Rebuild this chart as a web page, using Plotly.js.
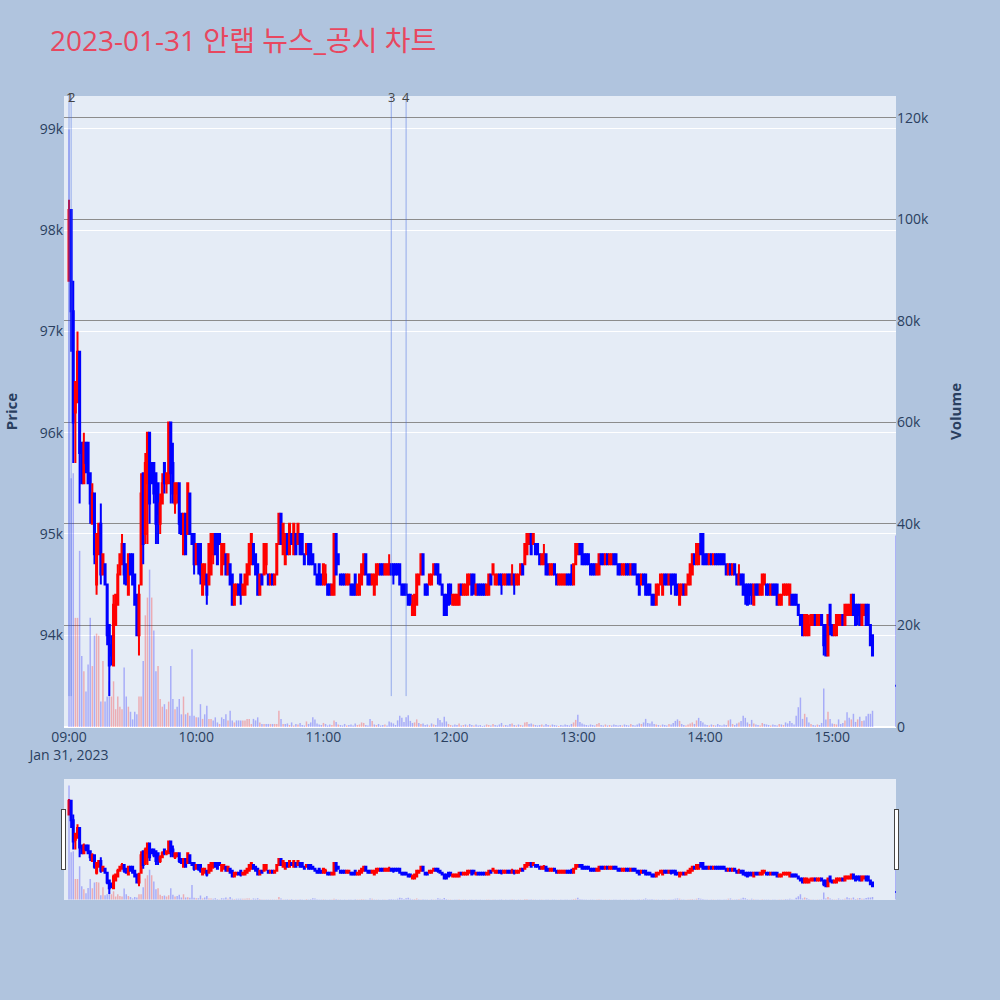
<!DOCTYPE html>
<html>
<head>
<meta charset="utf-8">
<script src="https://cdn.plot.ly/plotly-3.0.1.min.js"></script>
<style>
  html, body { margin: 0; padding: 0; background: #b0c4de; }
  #chart { width: 1000px; height: 1000px; }
</style>
</head>
<body>
<div id="chart"></div>
<script>
// ---------------- data ----------------
const chartTitle = '2023-01-31 안랩 뉴스_공시 차트';
const tradeDate = '2023-01-31';
const sessionStartHour = 9;
const continuousMinutes = 380;          // 09:00 .. 15:19
const closingAuctionTime = '15:30';

const openPrice = [
97500,98200,97200,96200,96300,96800,95900,95500,95900,95900,
95600,95100,95400,94500,94800,95100,94600,94700,94500,94100,
93900,93700,94100,94300,94600,94700,94900,94700,94400,94800,
94800,94600,94400,94000,94500,95600,95000,95500,96000,95700,
95700,95600,95500,95100,95300,95700,95500,95500,96100,95700,
95300,95400,95500,95200,94800,95200,95000,95400,95000,95000,
94700,94900,94900,94400,94500,94600,94500,94600,94800,95000,
95000,95000,94600,94700,94800,94600,94700,94600,94300,94400,
94500,94600,94400,94400,94500,94600,94700,94900,94800,94700,
94400,94600,94600,94700,94600,94500,94600,94500,94600,94900,
95200,94800,94700,95000,94800,95000,94800,95000,94900,95000,
95000,94800,94800,94900,94900,94800,94700,94600,94700,94600,
94500,94500,94500,94500,94400,94400,95000,94800,94600,94600,
94600,94500,94500,94500,94500,94600,94400,94400,94500,94600,
94800,94600,94600,94500,94400,94500,94600,94700,94700,94600,
94600,94600,94700,94700,94700,94700,94700,94500,94500,94500,
94400,94400,94200,94200,94300,94500,94600,94800,94500,94500,
94500,94500,94600,94700,94700,94600,94500,94400,94400,94500,
94500,94300,94300,94300,94300,94500,94400,94400,94400,94500,
94600,94600,94400,94500,94500,94500,94500,94400,94400,94600,
94600,94500,94500,94600,94600,94500,94500,94600,94600,94500,
94600,94500,94500,94600,94700,94700,94800,94900,95000,94900,
94900,94900,94800,94700,94700,94800,94700,94600,94600,94700,
94600,94500,94500,94500,94500,94600,94600,94600,94500,94700,
94800,94900,94900,94800,94800,94800,94700,94700,94700,94600,
94600,94800,94800,94700,94800,94700,94700,94800,94800,94700,
94700,94600,94600,94700,94700,94600,94700,94700,94600,94600,
94500,94600,94600,94500,94500,94400,94400,94300,94400,94500,
94400,94600,94600,94500,94600,94600,94600,94500,94300,94400,
94500,94400,94500,94500,94600,94800,94700,94700,95000,95000,
94800,94800,94700,94800,94700,94800,94800,94800,94800,94800,
94700,94600,94700,94600,94700,94600,94500,94600,94600,94500,
94500,94500,94500,94300,94500,94500,94400,94400,94500,94500,
94500,94400,94500,94500,94500,94300,94300,94400,94400,94400,
94300,94400,94400,94400,94300,94200,94200,94000,94000,94000,
94100,94100,94200,94100,94100,94200,94100,94100,93800,94300,
94100,94000,94000,94100,94100,94200,94100,94200,94200,94200,
94400,94300,94300,94300,94100,94200,94300,94300,94100,94000,
93500];

const highPrice = [
98300,98200,97500,96500,97000,96800,95900,96000,95900,95900,
95600,95500,95400,95000,95100,95300,94800,94700,94500,94100,
94000,94400,94400,94700,94800,95000,94900,94700,94800,94800,
94800,94600,94400,94500,95600,95600,95800,96000,96000,95700,
95700,95600,95500,95400,95600,95700,95600,96100,96100,95900,
95500,95500,95500,95200,95200,95200,95500,95400,95000,95000,
94900,94900,94900,94700,94700,94600,94900,95000,95000,95000,
95000,95000,94900,94900,94800,94800,94700,94600,94500,94500,
94500,94600,94500,94600,94700,94900,95000,94900,94800,94700,
94600,94600,94900,94900,94600,94600,94600,94600,94900,95200,
95200,95100,95000,95000,95100,95000,95100,95000,95100,95000,
95000,94800,94900,94900,94900,94800,94700,94600,94700,94600,
94700,94700,94500,94500,94500,95000,95000,94800,94600,94600,
94600,94600,94600,94500,94500,94600,94500,94600,94700,94800,
94800,94600,94600,94600,94600,94700,94700,94700,94700,94700,
94700,94800,94700,94700,94700,94700,94700,94500,94500,94500,
94400,94400,94400,94400,94600,94600,94800,94800,94500,94500,
94600,94600,94700,94700,94700,94600,94500,94400,94400,94500,
94500,94400,94400,94400,94500,94500,94500,94500,94600,94600,
94600,94600,94500,94500,94500,94500,94500,94500,94600,94600,
94700,94600,94600,94600,94600,94600,94600,94600,94600,94700,
94600,94600,94600,94700,94700,94900,95000,95000,95000,95000,
94900,94900,94800,94800,94900,94800,94700,94700,94700,94700,
94600,94600,94600,94600,94600,94600,94600,94700,94700,94900,
94900,94900,94900,94800,94800,94800,94700,94700,94700,94700,
94800,94800,94800,94800,94800,94800,94800,94800,94800,94700,
94700,94700,94700,94700,94700,94700,94700,94700,94600,94600,
94600,94600,94600,94500,94500,94400,94400,94500,94500,94600,
94600,94600,94600,94600,94600,94600,94600,94500,94500,94500,
94500,94500,94600,94700,94800,94800,94900,94900,95000,95000,
94800,94800,94800,94800,94800,94800,94800,94800,94800,94800,
94700,94700,94700,94700,94700,94600,94700,94600,94600,94500,
94500,94500,94500,94500,94500,94500,94500,94600,94600,94500,
94500,94500,94500,94500,94500,94400,94400,94500,94500,94500,
94500,94400,94400,94400,94300,94200,94200,94200,94200,94200,
94200,94200,94200,94200,94200,94200,94100,94100,94200,94300,
94100,94100,94200,94200,94200,94200,94300,94300,94300,94400,
94400,94300,94300,94300,94300,94300,94300,94300,94100,94000,
93500];

const lowPrice = [
97500,96800,95700,95700,96300,95300,95500,95500,95600,95500,
95100,95100,94700,94400,94800,94500,94600,94500,93900,93400,
93700,93700,94100,94300,94600,94700,94500,94500,94400,94600,
94500,94300,94000,93800,94500,94700,94900,94900,95100,95500,
95300,94900,94900,95000,95300,95400,95400,95500,95300,95300,
95200,95300,95000,95000,94800,94800,95000,95000,94900,94600,
94700,94600,94500,94400,94500,94300,94500,94600,94700,94800,
94700,94900,94600,94700,94600,94600,94500,94300,94300,94400,
94400,94300,94400,94400,94500,94600,94700,94700,94600,94400,
94400,94500,94600,94600,94500,94500,94500,94500,94600,94900,
94900,94800,94700,94800,94800,94900,94800,94800,94900,94800,
94800,94700,94800,94700,94700,94700,94600,94500,94500,94500,
94500,94500,94400,94400,94400,94400,94600,94700,94500,94500,
94500,94500,94500,94400,94400,94400,94400,94400,94500,94600,
94600,94500,94500,94500,94400,94500,94600,94600,94600,94600,
94600,94600,94600,94500,94600,94600,94500,94400,94400,94400,
94300,94300,94200,94200,94300,94500,94600,94600,94400,94400,
94500,94500,94600,94600,94500,94500,94400,94200,94200,94300,
94300,94300,94300,94300,94300,94400,94400,94400,94400,94500,
94400,94400,94400,94400,94400,94400,94400,94400,94400,94500,
94600,94500,94500,94500,94400,94500,94500,94500,94500,94500,
94400,94500,94500,94600,94600,94700,94800,94900,94800,94900,
94800,94800,94700,94700,94700,94600,94600,94600,94600,94600,
94500,94500,94500,94500,94500,94500,94500,94500,94500,94700,
94800,94800,94700,94700,94700,94700,94600,94600,94600,94600,
94600,94700,94700,94700,94700,94700,94700,94700,94700,94600,
94600,94600,94600,94600,94600,94600,94600,94600,94500,94400,
94500,94500,94400,94400,94400,94300,94300,94300,94400,94500,
94400,94500,94500,94500,94400,94500,94400,94400,94300,94400,
94400,94400,94500,94500,94600,94700,94700,94700,94800,94700,
94700,94700,94700,94700,94700,94700,94700,94700,94700,94700,
94600,94600,94600,94600,94600,94500,94500,94500,94400,94300,
94300,94300,94300,94300,94400,94400,94400,94400,94500,94400,
94400,94400,94400,94400,94300,94300,94300,94400,94400,94400,
94300,94300,94300,94300,94200,94100,94000,94000,94000,94000,
94100,94100,94100,94100,94100,94100,93800,93800,93800,94000,
94000,94000,94000,94100,94100,94100,94100,94200,94200,94200,
94200,94100,94100,94100,94100,94200,94100,94100,93900,93800,
93500];

const closePrice = [
98200,97200,96100,96500,96800,95800,95500,95900,95700,95500,
95300,95400,94800,95000,95100,94600,94800,94500,94000,93700,
93800,94300,94400,94600,94800,94900,94600,94500,94800,94600,
94500,94300,94000,94400,95400,94900,95700,96000,95300,95500,
95400,95100,95200,95300,95500,95500,95600,96100,95600,95400,
95500,95500,95100,95000,95200,94800,95500,95000,94900,94700,
94900,94700,94600,94700,94700,94400,94900,95000,95000,94800,
94700,94900,94900,94900,94600,94800,94500,94300,94500,94500,
94400,94400,94500,94600,94700,94900,95000,94700,94600,94400,
94600,94500,94900,94900,94500,94600,94500,94600,94900,95200,
94900,95100,95000,94800,95100,94900,95100,94800,95100,94800,
94800,94700,94900,94700,94700,94700,94600,94500,94500,94500,
94700,94600,94400,94400,94500,95000,94600,94700,94500,94500,
94500,94600,94600,94400,94400,94400,94500,94600,94700,94800,
94600,94500,94500,94600,94600,94700,94700,94600,94600,94700,
94700,94700,94600,94600,94600,94600,94500,94400,94400,94400,
94300,94300,94300,94400,94600,94600,94800,94600,94400,94400,
94600,94600,94700,94600,94600,94500,94400,94200,94200,94300,
94400,94400,94400,94400,94500,94400,94500,94500,94600,94600,
94400,94500,94500,94400,94400,94400,94400,94500,94600,94500,
94700,94600,94600,94500,94500,94600,94600,94500,94500,94600,
94500,94600,94600,94700,94600,94900,95000,95000,94800,95000,
94800,94800,94700,94800,94800,94600,94600,94700,94700,94600,
94500,94600,94600,94600,94600,94500,94500,94500,94700,94900,
94900,94800,94700,94700,94700,94700,94600,94600,94600,94700,
94800,94700,94700,94800,94700,94800,94800,94700,94700,94600,
94600,94700,94700,94600,94600,94700,94600,94600,94500,94400,
94600,94500,94400,94400,94400,94300,94300,94500,94500,94600,
94600,94500,94500,94600,94500,94500,94400,94400,94500,94500,
94400,94500,94600,94700,94800,94700,94900,94900,94800,94700,
94700,94700,94800,94700,94800,94700,94700,94700,94700,94700,
94600,94700,94600,94700,94600,94500,94600,94500,94400,94400,
94300,94400,94400,94500,94400,94400,94500,94600,94600,94400,
94400,94500,94400,94400,94300,94400,94400,94500,94500,94500,
94500,94300,94300,94300,94200,94100,94000,94200,94200,94100,
94200,94200,94100,94200,94200,94100,93900,93800,94200,94100,
94000,94100,94200,94200,94200,94100,94300,94300,94300,94400,
94200,94100,94200,94100,94300,94300,94100,94100,93900,93800,
93500];

const volume = [
117700,49000,50000,21500,21500,34700,14000,11000,7000,12300,
21500,12000,18000,18400,18000,5000,13000,5000,6000,9000,
6000,9000,3500,6000,4000,3500,11700,6000,4000,3000,
1500,3000,2500,6000,6000,13000,22000,25500,31000,25500,
19000,11000,12000,5500,4000,4500,3500,5000,12000,5500,
3500,4000,5500,2500,6000,2500,2800,2200,15300,2200,
1900,1900,4500,1600,2500,4200,1600,1600,1300,1900,
900,600,1900,1600,2500,1300,3200,1300,900,1300,
1300,1300,1300,1300,1600,1600,600,1600,1300,1900,
900,600,600,600,600,600,600,600,600,3200,
1600,600,600,700,400,900,300,600,500,800,
400,300,1100,600,900,1900,1500,700,500,400,
800,600,300,500,400,1300,1000,500,400,300,
600,300,400,500,300,700,400,500,900,800,
400,300,1600,1200,500,400,600,300,400,500,
300,1100,900,700,400,1300,2200,1800,1000,1900,
2300,1200,800,900,1500,800,600,700,400,500,
300,700,500,400,1700,1400,900,2000,1100,600,
400,300,500,400,700,300,400,500,300,600,
400,300,500,300,400,200,300,500,400,300,
600,400,300,500,800,300,400,300,600,700,
400,300,500,400,300,900,1000,600,700,500,
400,300,400,500,300,600,400,300,500,400,
300,200,400,300,500,400,300,600,900,1400,
2400,1000,700,500,400,300,500,400,300,600,
800,400,300,500,300,400,300,500,400,300,
400,300,500,400,300,600,400,300,500,700,
600,900,1600,800,700,1100,600,500,400,300,
500,400,300,600,500,800,1200,1500,1200,600,
400,300,500,700,900,600,1300,1800,1200,900,
500,400,300,500,400,300,600,400,300,500,
400,1300,1500,600,400,700,900,1200,2200,1800,
900,600,1400,700,500,400,300,800,600,500,
400,300,500,400,300,600,500,400,900,700,
1200,800,500,2200,3900,5800,1600,2600,1900,900,
600,400,300,500,400,800,7600,1500,3000,1600,
700,600,500,1500,600,800,1300,2900,1800,1500,
2600,1000,1500,2000,1200,1300,2100,2600,2600,3200,
37700];

const newsTimes = ['09:00', '09:01', '11:32', '11:39'];
const newsLabels = ['1', '2', '3', '4'];

// ---------------- build ----------------
const pad = n => String(n).padStart(2, '0');
const times = [];
for (let i = 0; i < continuousMinutes; i++) {
  const h = sessionStartHour + Math.floor(i / 60);
  const m = i % 60;
  times.push(`${tradeDate} ${pad(h)}:${pad(m)}`);
}
times.push(`${tradeDate} ${closingAuctionTime}`);

const RED = '#ff0000', BLUE = '#0000ff';
const volColors = volume.map((v, i) =>
  (i > 0 && closePrice[i] > closePrice[i - 1]) ? 'rgba(255,0,0,0.27)' : 'rgba(0,0,255,0.27)');

const candle = {
  type: 'candlestick', x: times,
  open: openPrice, high: highPrice, low: lowPrice, close: closePrice,
  increasing: { line: { color: RED, width: 2 }, fillcolor: RED },
  decreasing: { line: { color: BLUE, width: 2 }, fillcolor: BLUE },
  name: 'Price', yaxis: 'y', showlegend: false
};
const bars = {
  type: 'bar', x: times, y: volume, yaxis: 'y2',
  marker: { color: volColors, line: { width: 0 } },
  name: 'Volume', showlegend: false
};

const xRange = [`${tradeDate} 08:57:38`, `${tradeDate} 15:30:05`];

const shapes = newsTimes.map(t => ({
  type: 'line', xref: 'x', yref: 'paper',
  x0: `${tradeDate} ${t}`, x1: `${tradeDate} ${t}`, y0: 0.049, y1: 1,
  line: { color: 'rgba(65,105,225,0.5)', width: 1 }
}));
const annotations = newsTimes.map((t, i) => ({
  x: `${tradeDate} ${t}`, xref: 'x', y: 1, yref: 'paper',
  text: newsLabels[i], showarrow: false, yanchor: 'middle', yshift: -1,
  font: { size: 13, color: '#444' }
}));

const FONT = '"Open Sans", "Noto Sans CJK KR", sans-serif';
const layout = {
  width: 1000, height: 1000,
  paper_bgcolor: '#b0c4de', plot_bgcolor: '#e5ecf6',
  font: { family: FONT, size: 14, color: '#2a3f5f' },
  title: { text: chartTitle, x: 0.05, xanchor: 'left', y: 0.959, yanchor: 'middle',
           font: { size: 28, color: '#e8475f', family: FONT } },
  margin: { l: 64, r: 104, t: 96, b: 100 },
  showlegend: false,
  bargap: 0.3,
  xaxis: {
    type: 'date', range: xRange, showgrid: false, zeroline: false,
    tickfont: { size: 14, color: '#2a3f5f' },
    rangeslider: { visible: true, bgcolor: '#e5ecf6', borderwidth: 0, range: xRange }
  },
  yaxis: {
    title: { text: 'Price', standoff: 18, font: { size: 15, weight: 'bold', color: '#2a3f5f' } },
    range: [93093, 99325], gridcolor: '#ffffff', gridwidth: 1, zeroline: false,
    tickfont: { size: 14, color: '#2a3f5f' }
  },
  yaxis2: {
    title: { text: 'Volume', standoff: 22, font: { size: 15, weight: 'bold', color: '#2a3f5f' } },
    overlaying: 'y', side: 'right', range: [0, 124300],
    gridcolor: '#8c8c8c', gridwidth: 1, zeroline: true, zerolinecolor: '#ffffff', zerolinewidth: 2,
    tickfont: { size: 14, color: '#2a3f5f' }
  },
  shapes, annotations
};

Plotly.newPlot('chart', [candle, bars], layout, { displayModeBar: false });
</script>
</body>
</html>
